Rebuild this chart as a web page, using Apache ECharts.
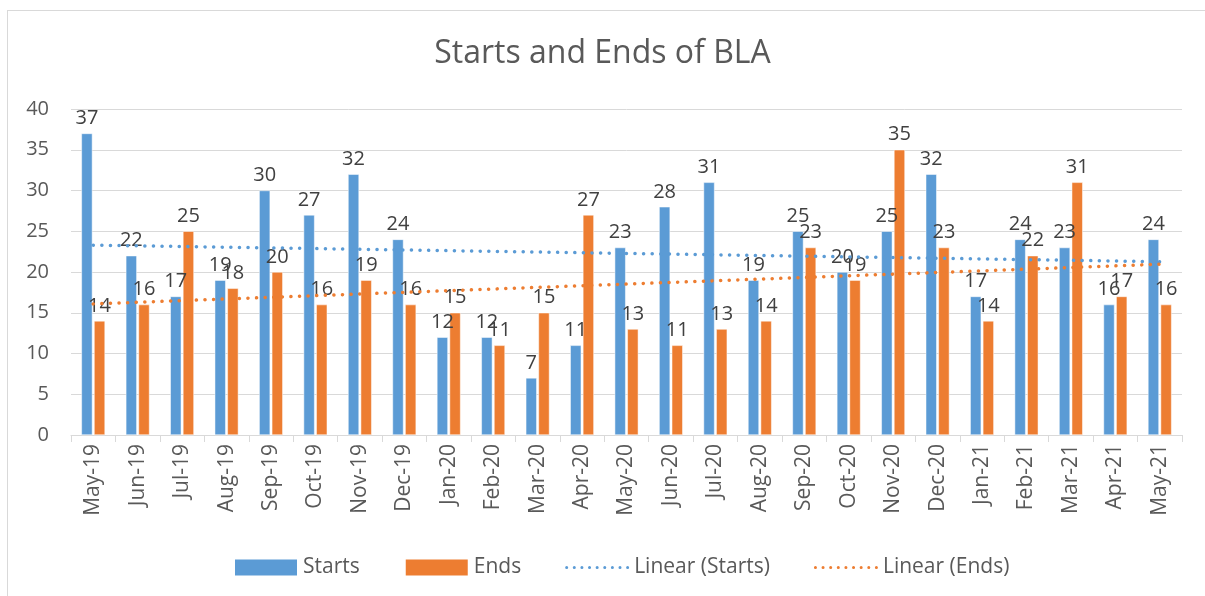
<!DOCTYPE html>
<html>
<head>
<meta charset="utf-8">
<script src="https://cdn.jsdelivr.net/npm/echarts@6/dist/echarts.min.js"></script>
<style>
  html, body { margin: 0; padding: 0; background: #fff; }
  .frame {
    position: absolute; left: 7px; top: 10px; width: 1210px; height: 600px;
    border: 1px solid #d9d9d9; box-sizing: border-box;
  }
  #chart { position: absolute; left: 0; top: 0; width: 1205px; height: 596px; }
</style>
</head>
<body>
<div class="frame"></div>
<div id="chart"></div>
<script>
const months = ['May-19', 'Jun-19', 'Jul-19', 'Aug-19', 'Sep-19', 'Oct-19', 'Nov-19', 'Dec-19',
  'Jan-20', 'Feb-20', 'Mar-20', 'Apr-20', 'May-20', 'Jun-20', 'Jul-20', 'Aug-20', 'Sep-20',
  'Oct-20', 'Nov-20', 'Dec-20', 'Jan-21', 'Feb-21', 'Mar-21', 'Apr-21', 'May-21']
const starts = [37, 22, 17, 19, 30, 27, 32, 24, 12, 12, 7, 11, 23, 28, 31, 19, 25, 20, 25, 32, 17, 24, 23, 16, 24]
const ends = [14, 16, 25, 18, 20, 16, 19, 16, 15, 11, 15, 27, 13, 11, 13, 14, 23, 19, 35, 23, 14, 22, 31, 17, 16]

// least squares trend, like Excel's "Linear" trendline
function linearTrend (vals) {
  const n = vals.length
  let sx = 0, sy = 0, sxx = 0, sxy = 0
  vals.forEach((v, i) => {
    const x = i + 1
    sx += x; sy += v; sxx += x * x; sxy += x * v
  })
  const b = (n * sxy - sx * sy) / (n * sxx - sx * sx)
  const a = (sy - b * sx) / n
  return vals.map((v, i) => a + b * (i + 1))
}

// dotted legend icon (row of small dots)
let dots = 'path://'
for (let i = 0; i < 9; i++) {
  const cx = i * 8 + 1.6
  dots += 'M' + (cx - 1.6) + ',1.6a1.6,1.6 0 1,0 3.2,0a1.6,1.6 0 1,0 -3.2,0'
}

const blue = '#5b9bd5'
const orange = '#ed7d31'
const font = '"Open Sans", "Noto Sans", sans-serif'
const labelConf = { show: true, position: 'top', fontSize: 20, color: '#404040', distance: 5 }

const chart = echarts.init(document.getElementById('chart'))
chart.setOption({
  animation: false,
  textStyle: { fontFamily: font },
  title: {
    text: 'Starts and Ends of BLA',
    left: 'center',
    top: 33,
    textStyle: { fontSize: 32, fontWeight: 'normal', color: '#595959', fontFamily: font }
  },
  legend: {
    bottom: 13,
    left: 228,
    itemWidth: 64,
    itemHeight: 18,
    itemGap: 44,
    textStyle: { fontSize: 21, color: '#595959', fontFamily: font },
    data: [
      { name: 'Starts', icon: 'rect' },
      { name: 'Ends', icon: 'rect' },
      { name: 'Linear (Starts)', icon: dots },
      { name: 'Linear (Ends)', icon: dots }
    ]
  },
  grid: { left: 71, right: 23, top: 109, bottom: 161 },
  xAxis: {
    type: 'category',
    data: months,
    axisLine: { lineStyle: { color: '#d9d9d9' } },
    axisTick: { show: true, length: 7, lineStyle: { color: '#d9d9d9' } },
    axisLabel: { rotate: 90, fontSize: 21, color: '#595959', margin: 9 }
  },
  yAxis: {
    type: 'value',
    min: 0,
    max: 40,
    interval: 5,
    axisLine: { show: false },
    axisTick: { show: false },
    axisLabel: { fontSize: 20, color: '#595959', margin: 22 },
    splitLine: { lineStyle: { color: '#d9d9d9', width: 1 } }
  },
  series: [
    {
      name: 'Starts',
      type: 'bar',
      data: starts,
      barWidth: 11,
      barGap: '15%',
      itemStyle: { color: blue, borderColor: '#fff', borderWidth: 0.5 },
      label: labelConf
    },
    {
      name: 'Ends',
      type: 'bar',
      data: ends,
      barWidth: 11,
      itemStyle: { color: orange, borderColor: '#fff', borderWidth: 0.5 },
      label: labelConf
    },
    {
      name: 'Linear (Starts)',
      type: 'line',
      data: linearTrend(starts),
      symbol: 'none',
      z: 3,
      lineStyle: { color: blue, width: 3.5, type: [0.1, 8.5], cap: 'round' },
      itemStyle: { color: blue }
    },
    {
      name: 'Linear (Ends)',
      type: 'line',
      data: linearTrend(ends),
      symbol: 'none',
      z: 3,
      lineStyle: { color: orange, width: 3.5, type: [0.1, 8.5], cap: 'round' },
      itemStyle: { color: orange }
    }
  ]
})
</script>
</body>
</html>
